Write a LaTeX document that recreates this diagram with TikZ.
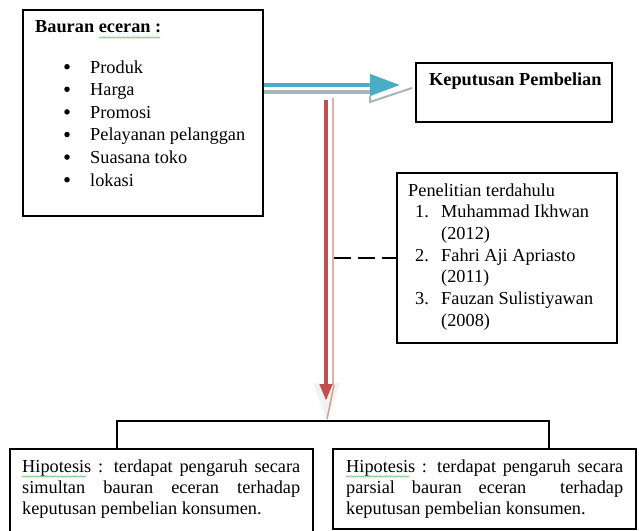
\documentclass[tikz,border=0pt]{standalone}
\usepackage{fontspec}
\setmainfont{Liberation Serif}
\usetikzlibrary{arrows.meta,decorations.pathmorphing}
\definecolor{aquablue}{HTML}{4BACC6}
\definecolor{accred}{HTML}{C0504D}
\definecolor{shadowgray}{HTML}{A7B4B9}
\definecolor{shadowpink}{HTML}{D9B3B2}
\definecolor{spellgreen}{HTML}{7DC47D}
\newcommand\fs{\fontsize{18.3}{21.4}\selectfont}
\begin{document}
\begin{tikzpicture}[x=1pt,y=-1pt,
  frame/.style={draw=black, line width=1.8pt, inner sep=0pt, anchor=north west},
  txt/.style={inner sep=0pt, anchor=base west, font=\fs},
  dot/.style={circle, fill=black, inner sep=0pt, minimum size=5.5pt},
  spell/.style={draw=spellgreen, line width=0.6pt, decorate, decoration={snake, amplitude=0.7pt, segment length=2.5pt}},
  hyp/.style={inner sep=0pt, anchor=base west, font=\fs}
]
\useasboundingbox (0,0) rectangle (639,530);
\fill[white] (0,0) rectangle (639,530);

% boxes
\node[frame, minimum width=240pt, minimum height=206pt] (bauran) at (22,9) {};
\node[frame, minimum width=196pt, minimum height=59pt] (kep) at (415,62) {};
\node[frame, minimum width=220pt, minimum height=170pt] (pen) at (396,172) {};
\node[frame, minimum width=303pt, minimum height=95pt] (hipL) at (9,448) {};
\node[frame, minimum width=303pt, minimum height=80pt] (hipR) at (332,448) {};

% box 1 text
\node[txt, font=\fs\bfseries] (tb) at (35,32.5) {Bauran eceran :};
\draw[spell] (99,37.5) -- (160,37.5);
\foreach \t [count=\i] in {Produk,Harga,Promosi,Pelayanan pelanggan,Suasana toko,lokasi} {
  \node[txt] (b\i) at (90,{73+22.6*(\i-1)}) {\t};
  \node[dot] (d\i) at (67,{66.7+22.6*(\i-1)}) {};
}

% keputusan
\node[txt, font=\fs\bfseries] (kt) at (429,85) {Keputusan Pembelian};

% penelitian
\node[txt] (p0) at (408,196) {Penelitian terdahulu};
\node[txt] (n1) at (415,217.7) {1.};
\node[txt] (q1) at (441,217.7) {Muhammad Ikhwan};
\node[txt] (y1) at (441,239.4) {(2012)};
\node[txt] (n2) at (415,261) {2.};
\node[txt] (q2) at (441,261) {Fahri Aji Apriasto};
\node[txt] (y2) at (441,282.8) {(2011)};
\node[txt] (n3) at (415,304.5) {3.};
\node[txt] (q3) at (441,304.5) {Fauzan Sulistiyawan};
\node[txt] (y3) at (441,326) {(2008)};

% hypotheses
\node[hyp] (hl) at (22,472) {\parbox[t]{278pt}{\fs\hyphenpenalty=10000 \tolerance=10000 Hipotesis : terdapat pengaruh secara simultan bauran eceran terhadap keputusan pembelian konsumen.}};
\node[hyp] (hr) at (346,472) {\parbox[t]{277pt}{\fs\hyphenpenalty=10000 \tolerance=10000 Hipotesis : terdapat pengaruh secara parsial bauran eceran\ \ terhadap keputusan pembelian konsumen.}};
\draw[spell] (22,476.5) -- (86,476.5);
\draw[spell] (346,476.5) -- (409,476.5);

% blue arrow
\coordinate (bs) at ([yshift=-76pt]bauran.north east);
\coordinate (bt) at ([xshift=-15pt]kep.west |- bs);
\draw[shadowgray, line width=4pt] ([yshift=-7pt]bs) -- ++(108,0);
\draw[shadowgray, line width=2pt] (370,96) -- (370,102) -- (412,88);
\draw[aquablue, line width=4.5pt, -{Triangle[length=30pt,width=21pt]}] (bs) -- (bt);

% red arrow
\coordinate (rs) at (326,100);
\coordinate (rtip) at (326,401);
\fill[gray!10] (313,383) -- (340,383) -- (327,421) -- cycle;
\draw[shadowpink, line width=2pt] (333,98) -- (333,385);
\draw[shadowpink!70!brown, line width=1.5pt] (334,385) -- (327,419);
\draw[accred, line width=4.5pt, -{Triangle[length=17pt,width=12pt]}] (rs) -- (rtip);

% dashed link
\coordinate (rx) at (334,0);
\draw[line width=1.8pt, dash pattern=on 17pt off 7pt] (pen.west -| rx) -- (pen.west);

% bracket
\coordinate (jl) at (117,421);
\coordinate (jr) at (549,421);
\draw[line width=1.8pt] (hipL.north -| jl) -- (jl) -- (jr) -- (hipR.north -| jr);
\end{tikzpicture}
\end{document}
